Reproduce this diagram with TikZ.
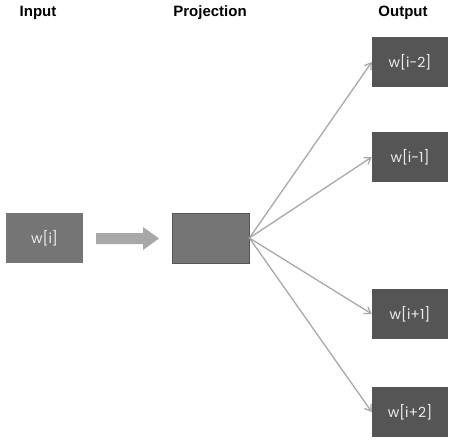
\documentclass[tikz,border=0pt]{standalone}
\usepackage{fontspec}
\setmainfont{Liberation Sans}
\newfontfamily\boxfont{Poppins}
\usepackage{tikz}
\usetikzlibrary{arrows.meta}

\definecolor{lightbox}{HTML}{757575}
\definecolor{darkbox}{HTML}{555555}
\definecolor{linegray}{HTML}{A8A8A8}

\tikzset{
  header/.style={font=\fontsize{15}{17}\selectfont\bfseries},
  wordbox/.style={fill=#1, minimum width=77pt, minimum height=50pt, inner sep=0pt,
    text=white!92!black, font=\boxfont\fontsize{14}{16}\selectfont},
  link/.style={linegray, line width=1.3pt, -{Straight Barb[length=6pt,width=8pt]}}
}

\begin{document}
\begin{tikzpicture}[x=1pt,y=-1pt]
            \useasboundingbox (0,0) rectangle (462,440);
            \node[header] (inhead) at (38,13) {Input};
            \node[header] (projhead) at (210,13) {Projection};
            \node[header] (outhead) at (403,13) {Output};
            \node[wordbox=lightbox] (input) at (44.5,238) {w[i]};
            \node[wordbox=lightbox, draw=darkbox, line width=0.8pt] (proj) at (210.5,238) {};
            % fat arrow between input and projection
            \fill[linegray] (96,233) -- (143,233) -- (143,227) -- (159,238.5) -- (143,250) -- (143,244) -- (96,244) -- cycle;
            \foreach \name/\y/\lbl in {om2/62/{w[i-2]}, om1/157/{w[i-1]}, op1/314/{w[i+1]}, op2/412/{w[i+2]}}
                \node[wordbox=darkbox, minimum width=76pt] (\name) at (410,\y) {\lbl};
            \foreach \name in {om2, om1, op1, op2}
                \draw[link] (proj.east) -- (\name.west);
        \end{tikzpicture}
\end{document}
